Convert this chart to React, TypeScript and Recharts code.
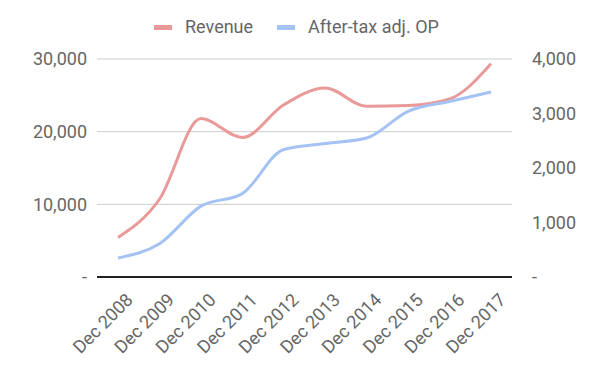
import React from "react";
import {
  LineChart,
  Line,
  XAxis,
  YAxis,
  CartesianGrid,
} from "recharts";

const years = [
  "Dec 2008",
  "Dec 2009",
  "Dec 2010",
  "Dec 2011",
  "Dec 2012",
  "Dec 2013",
  "Dec 2014",
  "Dec 2015",
  "Dec 2016",
  "Dec 2017",
];
const revenue = [5450, 10700, 21800, 19200, 23700, 26000, 23500, 23600, 24500, 29350];
const afterTaxOp = [350, 610, 1300, 1530, 2340, 2450, 2550, 3040, 3220, 3395];
const leftTicks = [0, 10000, 20000, 30000];
const rightTicks = [0, 1000, 2000, 3000, 4000];

const REV_COLOR = "#ea9999";
const OP_COLOR = "#a4c2f4";
const TEXT_COLOR = "#666666";

const data = years.map((year, i) => ({
  year,
  revenue: revenue[i],
  op: afterTaxOp[i],
}));

const fmt = (v: number) => (v === 0 ? "-" : v.toLocaleString("en-US"));

const tickStyle = { fill: TEXT_COLOR, fontSize: 18, fontFamily: "Roboto" };

export default function App() {
  return (
    <div
      style={{
        position: "absolute",
        left: 0,
        top: 0,
        width: 600,
        height: 371,
        background: "#fff",
        fontFamily: "Roboto",
      }}
    >
      <div
        style={{
          position: "absolute",
          top: 15,
          left: 154,
          display: "flex",
          gap: 24,
          fontSize: 18,
          lineHeight: "24px",
          color: TEXT_COLOR,
        }}
      >
        {[
          { name: "Revenue", color: REV_COLOR },
          { name: "After-tax adj. OP", color: OP_COLOR },
        ].map((item) => (
          <div key={item.name} style={{ display: "flex", alignItems: "center", gap: 13 }}>
            <span
              style={{
                display: "inline-block",
                width: 18,
                height: 5,
                background: item.color,
              }}
            />
            <span>{item.name}</span>
          </div>
        ))}
      </div>
      <LineChart
        width={600}
        height={371}
        data={data}
        margin={{ top: 59, right: 0, bottom: 0, left: 0 }}
      >
        <CartesianGrid
          yAxisId="left"
          vertical={false}
          stroke="#cccccc"
          horizontalValues={leftTicks}
        />
        <XAxis
          dataKey="year"
          interval={0}
          angle={-45}
          textAnchor="end"
          tickLine={false}
          axisLine={{ stroke: "#222222", strokeWidth: 2 }}
          tick={{ ...tickStyle, dx: 7 }}
          tickMargin={9}
          padding={{ left: 21, right: 21 }}
          height={94}
        />
        <YAxis
          yAxisId="left"
          orientation="left"
          domain={[0, 30000]}
          ticks={leftTicks}
          tickFormatter={fmt}
          axisLine={false}
          tickLine={false}
          tickSize={0}
          tickMargin={10}
          tick={tickStyle}
          width={97}
        />
        <YAxis
          yAxisId="right"
          orientation="right"
          domain={[0, 4000]}
          ticks={rightTicks}
          tickFormatter={fmt}
          axisLine={false}
          tickLine={false}
          tickSize={0}
          tickMargin={20}
          tick={{ ...tickStyle, textAnchor: "start" }}
          width={88}
        />
        <Line
          yAxisId="left"
          dataKey="revenue"
          type="monotone"
          stroke={REV_COLOR}
          strokeWidth={3}
          dot={false}
          isAnimationActive={false}
        />
        <Line
          yAxisId="right"
          dataKey="op"
          type="monotone"
          stroke={OP_COLOR}
          strokeWidth={3}
          dot={false}
          isAnimationActive={false}
        />
      </LineChart>
    </div>
  );
}
